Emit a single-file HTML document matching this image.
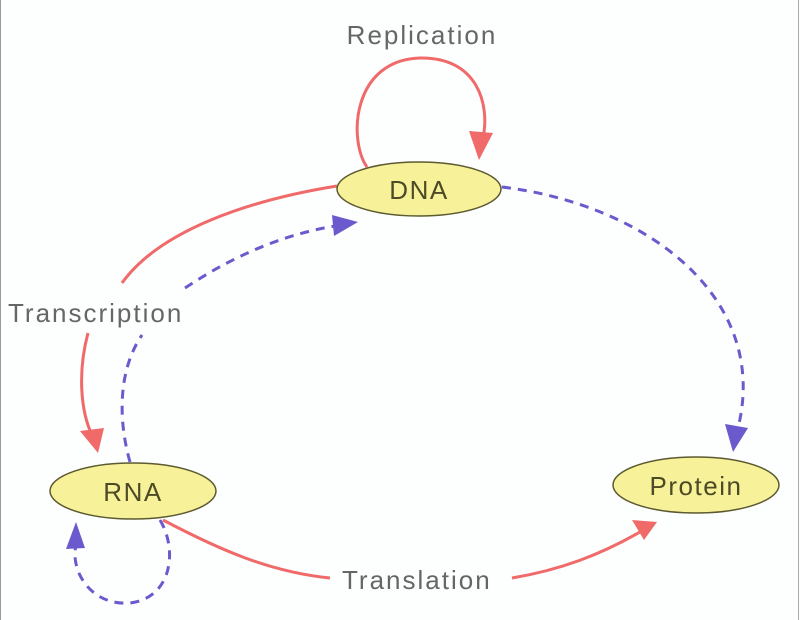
<!DOCTYPE html>
<html><head><style>
html,body{margin:0;padding:0;background:#fdfefe;}
svg{display:block}
text{font-family:"Liberation Sans",sans-serif;}
</style></head><body>
<svg width="800" height="620" viewBox="0 0 800 620" xmlns="http://www.w3.org/2000/svg">
<rect x="0" y="0" width="800" height="620" fill="#fdfefe"/>
<line x1="0.5" y1="0" x2="0.5" y2="620" stroke="#999" stroke-width="1"/>
<line x1="798.5" y1="0" x2="798.5" y2="620" stroke="#aaa" stroke-width="1"/>
<g fill="none" stroke-width="3">
<path d="M367,167 C348,140 352,60 420,58 C478,57 490,105 483,138" stroke="#f06a6a"/>
<path d="M337,186 C250,200 160,230 122,283" stroke="#f06a6a"/>
<path d="M88,333 C78,370 80,410 92,435" stroke="#f06a6a"/>
<path d="M163,520 C220,550 270,572 330,578" stroke="#f06a6a"/>
<path d="M512,578 C560,570 600,555 640,532" stroke="#f06a6a"/>
<g stroke="#6a5acd" stroke-dasharray="9,7">
<path d="M130,462 C118,420 118,370 142,335"/>
<path d="M185,288 C230,258 280,235 335,226"/>
<path d="M502,187 C650,205 770,300 738,428"/>
<path d="M160,520 C178,550 172,598 130,603 C90,606 70,570 76,545"/>
</g>
</g>
<polygon points="479,160 469,131 493,133" fill="#f06a6a"/>
<polygon points="98,453 80,431 104,428" fill="#f06a6a"/>
<polygon points="657,522 632,520 644,540" fill="#f06a6a"/>
<polygon points="358,222 332,215 334,236" fill="#6a5acd"/>
<polygon points="733,452 725,424 748,428" fill="#6a5acd"/>
<polygon points="76,522 66,549 85,548" fill="#6a5acd"/>
<g fill="#f7f29a" stroke="#5c5a30" stroke-width="1.5">
<ellipse cx="419" cy="189" rx="82" ry="27"/>
<ellipse cx="696" cy="485" rx="83" ry="28"/>
<ellipse cx="133" cy="491" rx="83" ry="28"/>
</g>
<g fill="#4d4a26" font-size="26" text-anchor="middle" letter-spacing="1.5">
<text x="419" y="199">DNA</text>
<text x="696" y="495">Protein</text>
<text x="133" y="501">RNA</text>
</g>
<g fill="#666" font-size="26" letter-spacing="2">
<text x="422" y="44" text-anchor="middle">Replication</text>
<text x="8" y="322">Transcription</text>
<text x="342" y="589">Translation</text>
</g>
</svg>
</body></html>
